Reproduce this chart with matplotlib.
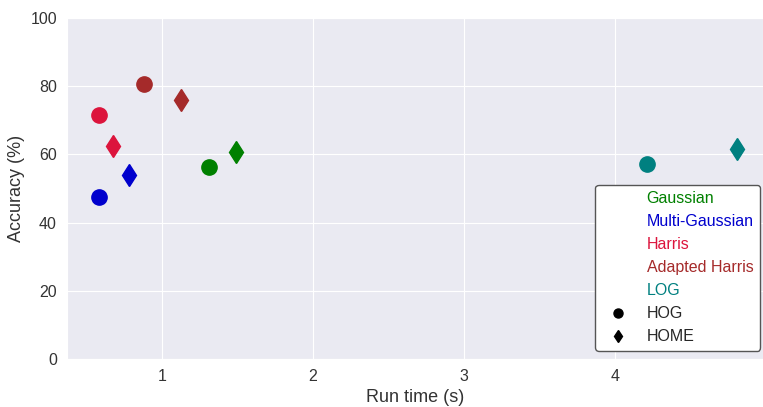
import matplotlib
matplotlib.use("Agg")
import matplotlib.pyplot as plt
import seaborn as sns
from matplotlib.lines import Line2D

sns.set_style("darkgrid")
plt.rcParams['font.family'] = ['Arial', 'Liberation Sans', 'DejaVu Sans']

methods = ["Gaussian", "Multi-Gaussian", "Harris", "Adapted Harris", "LOG"]
colors = ["green", "mediumblue", "crimson", "brown", "teal"]
hog_time = [1.31, 0.584, 0.584, 0.88, 4.21]
hog_acc = [56.3, 47.5, 71.7, 80.6, 57.1]
home_time = [1.49, 0.782, 0.676, 1.125, 4.805]
home_acc = [60.7, 54.0, 62.5, 76.0, 61.5]

fig = plt.figure(figsize=(7.63, 4.07), dpi=100)
ax = fig.add_axes([66.7/763, 1 - 359/407, (763 - 66.7)/763, (359 - 18)/407])

for m, c, ht, ha, mt, ma in zip(methods, colors, hog_time, hog_acc, home_time, home_acc):
    ax.plot(ht, ha, marker='o', color=c, markersize=11, linestyle='none')
    ax.plot(mt, ma, marker='d', color=c, markersize=11.2, linestyle='none')

ax.set_xlim(0.369, 4.98)
ax.set_ylim(0, 100)
ax.set_xticks([1, 2, 3, 4])
ax.set_yticks([0, 20, 40, 60, 80, 100])
ax.tick_params(labelsize=11.5, colors='#333333')
ax.set_xlabel("Run time (s)", fontsize=13, color='#333333')
ax.set_ylabel("Accuracy (%)", fontsize=13, color='#333333')

handles = [Line2D([], [], linestyle='none', marker=None) for _ in methods]
handles += [Line2D([], [], marker='o', color='black', linestyle='none', markersize=6.5),
            Line2D([], [], marker='d', color='black', linestyle='none', markersize=6.2)]
labels = methods + ["HOG", "HOME"]
leg = ax.legend(handles, labels, loc='lower right', fontsize=11.5, frameon=True,
                facecolor='white', edgecolor='#555555', framealpha=1,
                borderaxespad=0, labelspacing=0.5,
                bbox_to_anchor=(1 - 3/696.3, 8.4/341))
for t, c in zip(leg.get_texts(), colors + ['#262626', '#262626']):
    t.set_color(c)

fig.savefig("out.png", dpi=100)
